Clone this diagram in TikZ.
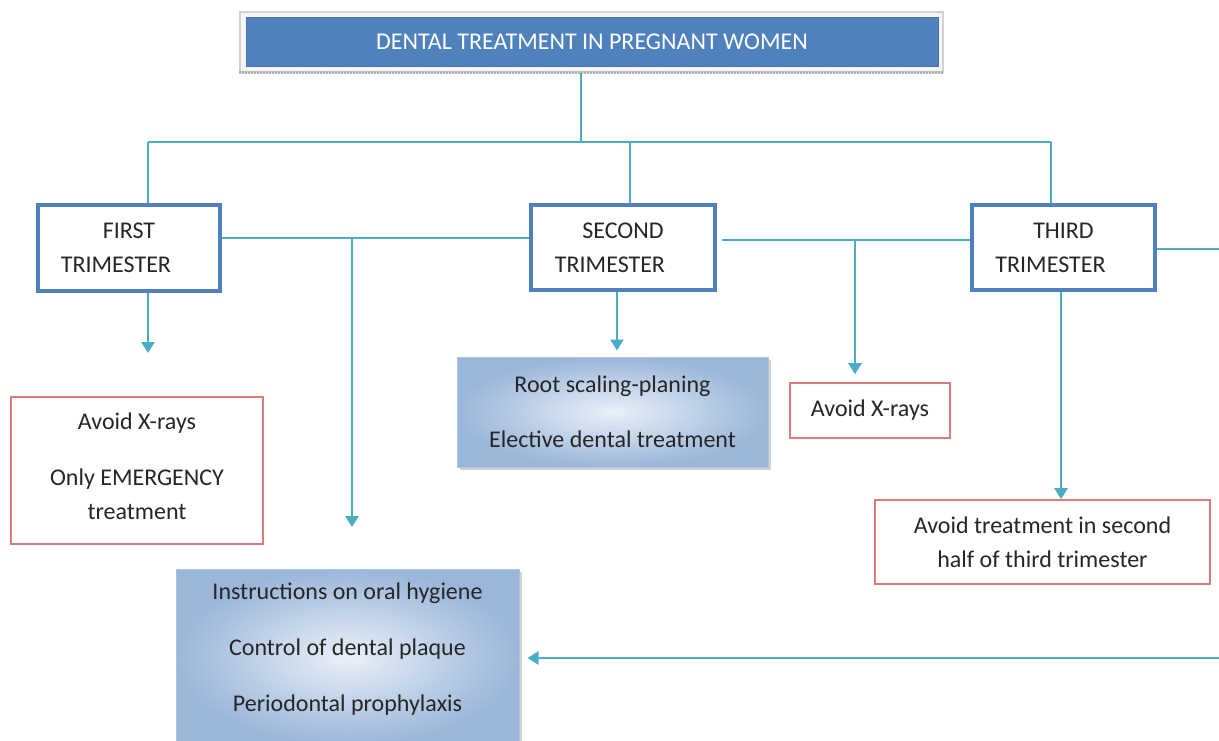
\documentclass[tikz,border=0pt]{standalone}
\usepackage{fontspec}
\setmainfont{Carlito}
\usetikzlibrary{arrows.meta,shadows}
\definecolor{conncol}{HTML}{4BACC6}
\definecolor{triblue}{HTML}{4F81BD}
\definecolor{redb}{HTML}{DA7C7A}
\definecolor{gradout}{HTML}{9AB6D9}
\definecolor{gradin}{HTML}{EAF0F8}
\definecolor{txt}{HTML}{262626}
\begin{document}
\begin{tikzpicture}[x=0.5pt,y=-0.5pt,
  every node/.style={font=\fontsize{12}{17}\selectfont, text=txt, align=center, inner sep=0pt},
  conn/.style={draw=conncol, line width=1.25pt},
  arr/.style={conn, -{Triangle[width=6.5pt,length=5.5pt]}},
  tribox/.style={draw=triblue, line width=2pt, fill=white},
  redbox/.style={draw=redb, line width=0.8pt, fill=white},
  gradbox/.style={draw=gradout!80!white, line width=0.5pt, inner color=gradin, outer color=gradout,
     drop shadow={shadow xshift=1.5pt, shadow yshift=-1.5pt, opacity=0.35}},
]
\useasboundingbox (0,0) rectangle (1219,740);
\clip (0,0) rectangle (1219,740);
\fill[white] (0,0) rectangle (1219,740);

% title
\node[draw=gray!35, fill=gray!8, line width=0.6pt, minimum width=351.5pt, minimum height=30pt] (titleframe) at (591.5,42) {};
\draw[gray!60, line width=1.2pt, dash pattern=on 1pt off 0.5pt] (titleframe.south west) -- (titleframe.south east);
\node[fill=triblue, draw=triblue!90!black, line width=0.4pt, minimum width=346pt, minimum height=24.5pt, text=white] (title) at (592,41.5) {DENTAL TREATMENT IN PREGNANT WOMEN};

% trimester boxes
\node[tribox, minimum width=91pt, minimum height=43pt] (first) at (129,248) {FIRST\\TRIMESTER\hspace*{13pt}};
\node[tribox, minimum width=92pt, minimum height=42.5pt] (second) at (623,247.5) {SECOND\\TRIMESTER\hspace*{13pt}};
\node[tribox, minimum width=91.5pt, minimum height=42.5pt] (third) at (1063.5,247.5) {THIRD\\TRIMESTER\hspace*{13pt}};

% result boxes
\node[redbox, minimum width=126pt, minimum height=73.5pt, text depth=4pt] (red1) at (137,470.5) {Avoid X-rays\\[11pt]Only EMERGENCY\\treatment};
\node[gradbox, minimum width=155.5pt, minimum height=55pt] (grad1) at (612.5,412) {Root scaling-planing\\[10.5pt]Elective dental treatment};
\node[redbox, minimum width=80pt, minimum height=27.5pt] (red2) at (870,410.5) {Avoid X-rays};
\node[redbox, minimum width=167.5pt, minimum height=42pt] (red3) at (1042.5,542) {Avoid treatment in second\\half of third trimester};
\node[gradbox, minimum width=171.5pt, minimum height=88pt, text depth=9.5pt] (grad2) at (347.5,657) {Instructions on oral hygiene\\[11pt]Control of dental plaque\\[11pt]Periodontal prophylaxis};

% bus
\coordinate (b1) at (148,142);
\coordinate (b0) at (581,142);
\coordinate (b2) at (630,142);
\coordinate (b3) at (1051,142);
\draw[conn] (titleframe.south -| b0) -- (b0);
\draw[conn] (b1) -- (b3);
\draw[conn] (b1) -- (first.north -| b1);
\draw[conn] (b2) -- (second.north -| b2);
\draw[conn] (b3) -- (third.north -| b3);

% first row links
\coordinate (h1) at (352,238);
\coordinate (a1) at (352,527);
\draw[conn] (first.east |- h1) -- (second.west |- h1);
\draw[arr] (h1) -- (a1);
\coordinate (f1) at (148,291);
\coordinate (f2) at (148,353);
\draw[arr] (first.south -| f1) -- (f2);
\coordinate (s1) at (617,290);
\draw[arr, shorten >=3pt] (second.south -| s1) -- (grad1.north -| s1);

\coordinate (h2) at (855,240);
\coordinate (h2s) at (722,240);
\draw[conn] (h2s) -- (third.west |- h2s);
\draw[arr, shorten >=4pt] (h2) -- (red2.north -| h2);
\coordinate (t1) at (1061,290);
\draw[arr] (third.south -| t1) -- (red3.north -| t1);

\coordinate (r1) at (1220,249);
\draw[conn] (third.east |- r1) -- (r1);
\coordinate (r2) at (1220,658);
\draw[arr, shorten >=4pt] (r2) -- (grad2.east |- r2);
\end{tikzpicture}
\end{document}
